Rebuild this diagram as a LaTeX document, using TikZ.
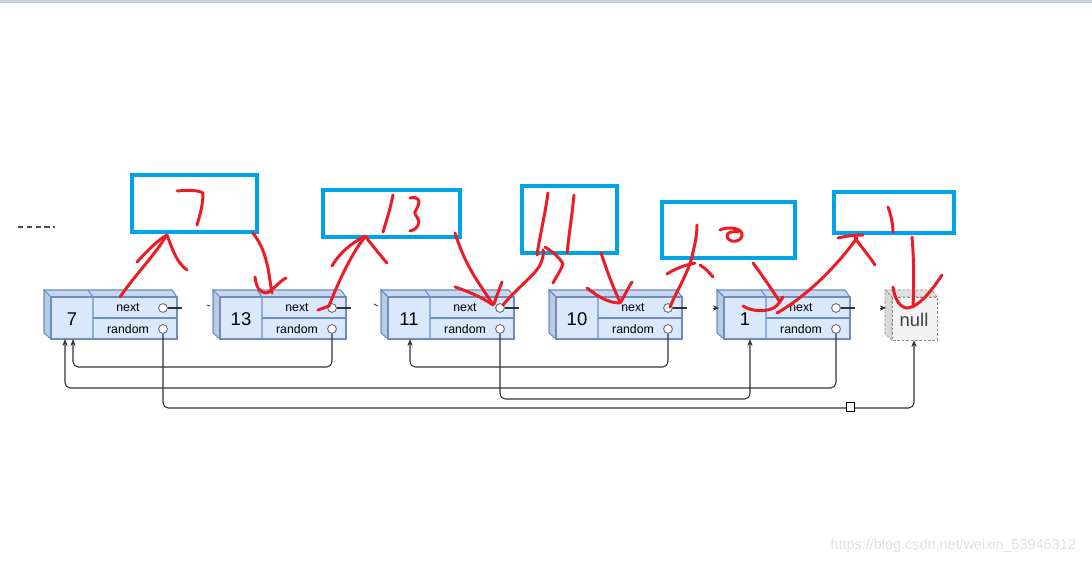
\documentclass[tikz,border=0pt]{standalone}
\usepackage{fontspec}
\setmainfont{Liberation Sans}
\usetikzlibrary{arrows.meta,calc}
\definecolor{cellfill}{HTML}{DAE8FC}
\definecolor{celltop}{HTML}{C8D7EF}
\definecolor{cellside}{HTML}{B7CAE6}
\definecolor{celledge}{HTML}{6C8EBF}
\definecolor{markblue}{HTML}{00A2E8}
\definecolor{markred}{HTML}{ED1C24}
\definecolor{topbar}{HTML}{C6CFE1}
\tikzset{
  pen/.style={markred, line width=1.7pt, line cap=round, line join=round},
  frame/.style={markblue, line width=2.3pt},
  ptr/.style={draw=black!80, line width=0.6pt, rounded corners=3pt, -{Stealth[length=4pt,width=3pt]}},
  port/.style={circle, draw=black!60, fill=white, line width=0.5pt, minimum size=5pt, inner sep=0pt},
  field/.style={font=\fontsize{7}{8}\selectfont, inner sep=0pt},
  val/.style={font=\fontsize{10.5}{12}\selectfont, inner sep=0pt},
  cell/.style={draw=celledge, line width=0.6pt},
}
\begin{document}
\begin{tikzpicture}[x=0.02cm, y=-0.02cm]
\useasboundingbox (0,0) rectangle (1092,564);
\fill[topbar] (0,0) rectangle (1092,3);
\draw[black!70, line width=0.6pt, dash pattern=on 3pt off 2pt] (18,227) -- (55,227);

% list cells
\foreach \L/\v in {44/7, 213/13, 381/11, 549/10, 717/1} {
  \filldraw[cell, fill=celltop] (\L,290) -- (\L+128,290) -- (\L+133,297) -- (\L+7,297) -- cycle;
  \filldraw[cell, fill=cellside] (\L,290) -- (\L+7,297) -- (\L+7,339) -- (\L,333) -- cycle;
  \filldraw[cell, fill=cellfill] (\L+7,297) rectangle (\L+133,339);
  \draw[cell] (\L+44,290) -- (\L+49,297) -- (\L+49,339);
  \draw[cell] (\L+49,318) -- (\L+133,318);
  \node[val] (v\v) at (\L+28,319) {\v};
  \node[field] (ln\v) at (\L+84,308) {next};
  \node[field] (lr\v) at (\L+84,329) {random};
  \node[port] (nx\v) at (\L+119,308) {};
  \node[port] (rd\v) at (\L+119,329) {};
  \coordinate (b\v) at (\L+28,339);
  \coordinate (in\v) at (\L+2,308);
  \draw[black!80, line width=0.6pt] (nx\v.east) -- ++(14,0);
}

% null cell
\filldraw[draw=black!45, dash pattern=on 1.5pt off 1pt, fill=black!12] (885,290) -- (932,290) -- (937,297) -- (892,297) -- cycle;
\filldraw[draw=black!45, dash pattern=on 1.5pt off 1pt, fill=black!15] (885,290) -- (892,297) -- (892,340) -- (885,334) -- cycle;
\filldraw[draw=black!45, dash pattern=on 1.5pt off 1pt, fill=black!5] (892,297) rectangle (937,340);
\node[val, text=black!75] (vnull) at (914,320) {null};
\coordinate (bnull) at (914,340);
\coordinate (innull) at (886,308);

% next pointers (mostly covered)
\draw[black!80, line width=0.5pt] ($(in13)+(-8,-3)$) -- ($(in13)+(-5,-2)$);
\draw[black!80, line width=0.5pt] ($(in11)+(-9,-4)$) -- ($(in11)+(-5,-2)$);
\draw[black!80, line width=0.5pt, -{Stealth[length=3.5pt,width=3pt]}] ($(in1)+(-6,0)$) -- (in1);
\draw[black!80, line width=0.5pt, -{Stealth[length=3.5pt,width=3pt]}] ($(innull)+(-6,0)$) -- (innull);

% random pointers
\draw[ptr] (rd13.south) |- ($(b7)+(1,28)$) -- ($(b7)+(1,0)$);
\draw[ptr] (rd1.south) |- ($(b7)+(-7,49)$) -- ($(b7)+(-7,0)$);
\draw[ptr] (rd10.south) |- ($(b11)+(1,28)$) -- ($(b11)+(1,0)$);
\draw[ptr] (rd11.south) |- ($(b1)+(5,60)$) -- ($(b1)+(5,0)$);
\draw[ptr] (rd7.south) |- ($(bnull)+(0,68)$) -- (bnull);
\draw[black, line width=0.5pt, fill=white] (846,402) rectangle (854,411);

% blue frames
\draw[frame] (132,175) rectangle (257,232);
\draw[frame] (323,190) rectangle (460,237);
\draw[frame] (522,186) rectangle (617,253);
\draw[frame] (662,202) rectangle (795,258);
\draw[frame] (834,192) rectangle (954,233);

% red marks
\draw[pen] (120,297) .. controls (135,275) and (155,255) .. (166,236);
\draw[pen] (137,262) .. controls (148,250) and (158,240) .. (167,235) .. controls (172,248) and (176,262) .. (187,270);
\draw[pen] (177,191) .. controls (188,190) and (198,190) .. (203,193) .. controls (203,205) and (200,215) .. (197,225);
\draw[pen] (253,233) .. controls (262,245) and (265,255) .. (268,268) .. controls (270,280) and (271,288) .. (272,293);
\draw[pen] (255,277) .. controls (256,287) and (260,293) .. (266,293) .. controls (272,292) and (278,282) .. (286,278);
\draw[pen] (318,310) -- (329,306) .. controls (335,290) and (350,255) .. (365,237);
\draw[pen] (332,266) .. controls (340,252) and (352,243) .. (365,236) .. controls (372,245) and (380,255) .. (387,263);
\draw[pen] (393,195) .. controls (390,210) and (386,222) .. (383,232);
\draw[pen] (410,198) .. controls (418,196) and (422,200) .. (416,210) .. controls (412,213) and (418,216) .. (419,222) .. controls (418,228) and (414,230) .. (410,231);
\draw[pen] (455,233) .. controls (462,255) and (470,270) .. (480,285) .. controls (486,294) and (490,300) .. (493,305);
\draw[pen] (455,287) .. controls (470,292) and (483,298) .. (493,305);
\draw[pen] (502,282) .. controls (499,290) and (496,298) .. (494,304);
\draw[pen] (503,305) .. controls (515,290) and (535,275) .. (540,265) .. controls (543,258) and (544,254) .. (543,250);
\draw[pen] (545,247) .. controls (553,252) and (560,258) .. (563,264) .. controls (560,272) and (556,277) .. (553,283);
\draw[pen] (548,193) .. controls (545,215) and (540,235) .. (537,255);
\draw[pen] (574,195) .. controls (572,215) and (569,235) .. (567,253);
\draw[pen] (601,253) .. controls (606,268) and (612,285) .. (620,302);
\draw[pen] (587,288) .. controls (597,296) and (608,303) .. (620,303) .. controls (625,295) and (628,288) .. (632,282);
\draw[pen] (670,307) .. controls (677,290) and (690,270) .. (693,252) .. controls (696,240) and (697,232) .. (697,225);
\draw[pen] (667,274) .. controls (676,268) and (686,265) .. (695,263);
\draw[pen] (700,265) .. controls (705,268) and (710,273) .. (713,277);
\draw[pen] (720,230) .. controls (728,226) and (744,228) .. (742,236) .. controls (740,243) and (728,243) .. (727,236) .. controls (727,232) and (733,231) .. (738,232);
\draw[pen] (753,263) .. controls (762,275) and (772,290) .. (780,302);
\draw[pen] (743,306) .. controls (752,312) and (768,312) .. (775,307) .. controls (779,304) and (781,300) .. (783,297);
\draw[pen] (777,313) .. controls (800,300) and (830,275) .. (857,238);
\draw[pen] (838,238) .. controls (846,236) and (856,235) .. (863,235);
\draw[pen] (855,238) .. controls (862,248) and (870,257) .. (875,265);
\draw[pen] (888,207) .. controls (891,215) and (893,225) .. (893,232);
\draw[pen] (912,237) .. controls (914,260) and (914,285) .. (913,307);
\draw[pen] (893,287) .. controls (895,300) and (900,308) .. (908,308) .. controls (920,306) and (932,290) .. (942,275);

\node[text=black!12, font=\fontsize{8.2}{10}\selectfont, anchor=east] (mark) at (1082,546) {https://blog.csdn.net/weixin\_53946312};
\end{tikzpicture}
\end{document}
